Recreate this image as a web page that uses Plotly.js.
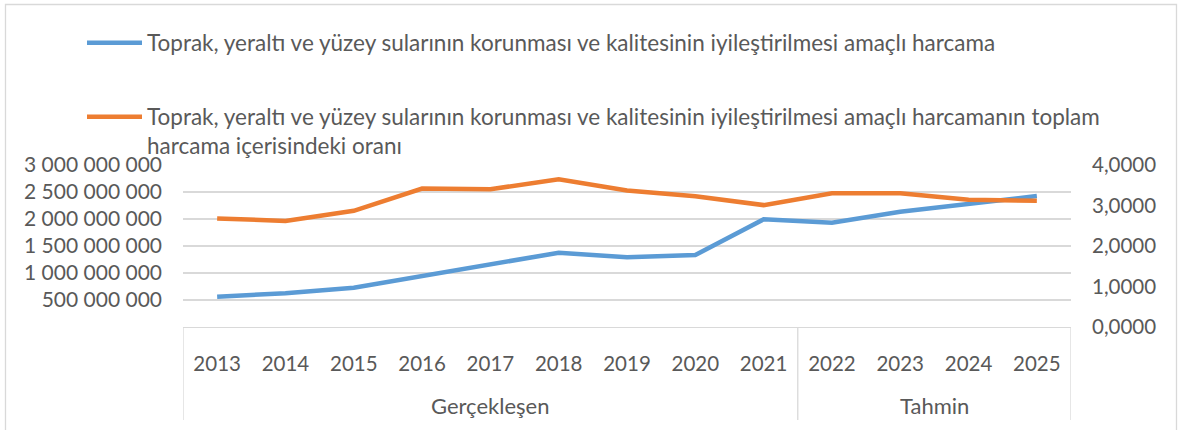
<!DOCTYPE html>
<html><head><meta charset="utf-8">
<script src="https://cdn.plot.ly/plotly-3.0.1.min.js"></script>
<style>html,body{margin:0;padding:0;background:#fff;}#chart{width:1178px;height:430px;}</style>
</head><body><div id="chart"></div>
<script>
const years = ['2013','2014','2015','2016','2017','2018','2019','2020','2021','2022','2023','2024','2025'];
const groups = ['Gerçekleşen','Gerçekleşen','Gerçekleşen','Gerçekleşen','Gerçekleşen','Gerçekleşen','Gerçekleşen','Gerçekleşen','Gerçekleşen','Tahmin','Tahmin','Tahmin','Tahmin'];
const harcama = [561e6, 624e6, 728e6, 944e6, 1161e6, 1376e6, 1290e6, 1333e6, 1994e6, 1931e6, 2135e6, 2278e6, 2426e6];
const oran = [2.68, 2.62, 2.87, 3.42, 3.40, 3.65, 3.37, 3.23, 3.01, 3.30, 3.30, 3.14, 3.12];
const seriesNames = [
  'Toprak, yeraltı ve yüzey sularının korunması ve kalitesinin iyileştirilmesi amaçlı harcama',
  'Toprak, yeraltı ve yüzey sularının korunması ve kalitesinin iyileştirilmesi amaçlı harcamanın toplam<br>harcama içerisindeki oranı'
];
const leftTicks = [500e6, 1000e6, 1500e6, 2000e6, 2500e6, 3000e6];
const rightTicks = [0, 1, 2, 3, 4];
const colors = ['#5B9BD5', '#ED7D31'];

const W = 1178, H = 430;
const M = {l: 183, r: 107, t: 165, b: 103};
const PW = W - M.l - M.r, PH = H - M.t - M.b;
const px = x => (x - M.l) / PW;
const py = y => (H - M.b - y) / PH;

const FONT = 'Lato, "Open Sans", sans-serif';
const TXT = '#595959';
const GRID = '#D9D9D9';
const FS = 20;

const traces = [
  {x: years, y: harcama, type: 'scatter', mode: 'lines', name: seriesNames[0],
   line: {color: colors[0], width: 4.5}, yaxis: 'y', showlegend: false},
  {x: years, y: oran, type: 'scatter', mode: 'lines', name: seriesNames[1],
   line: {color: colors[1], width: 4.5}, yaxis: 'y2', showlegend: false}
];

const shapes = [];
const annotations = [];

// outer border
shapes.push({type: 'rect', xref: 'paper', yref: 'paper', x0: px(5.5), x1: px(1176.5), y0: py(440), y1: py(4.5),
  line: {color: GRID, width: 1.3}, fillcolor: 'rgba(0,0,0,0)', layer: 'below'});

// group labels and dividers
const uniq = [];
groups.forEach((g, i) => {
  const last = uniq[uniq.length - 1];
  if (!last || last.name !== g) uniq.push({name: g, first: i, last: i});
  else last.last = i;
});
uniq.forEach((g, k) => {
  annotations.push({x: (g.first + g.last) / 2, xref: 'x', y: py(405), yref: 'paper', text: g.name,
    showarrow: false, xanchor: 'center', yanchor: 'middle', font: {family: FONT, size: 22, color: TXT}});
  shapes.push({type: 'line', xref: 'x', yref: 'paper', x0: g.first - 0.5, x1: g.first - 0.5, y0: 0, y1: py(420),
    line: {color: GRID, width: 1.3}});
  if (k === uniq.length - 1) {
    shapes.push({type: 'line', xref: 'x', yref: 'paper', x0: g.last + 0.5, x1: g.last + 0.5, y0: 0, y1: py(420),
      line: {color: GRID, width: 1.3}});
  }
});

// manual legend
const legY = [[42.7, 42.7], [116.7, 130.85]];
seriesNames.forEach((n, i) => {
  shapes.push({type: 'line', xref: 'paper', yref: 'paper', x0: px(87), x1: px(142), y0: py(legY[i][0]), y1: py(legY[i][0]),
    line: {color: colors[i], width: 4.5}});
  annotations.push({x: px(145), xref: 'paper', y: py(legY[i][1]), yref: 'paper', text: n, showarrow: false,
    xanchor: 'left', yanchor: 'middle', align: 'left', font: {family: FONT, size: 22.5, color: TXT}});
});

const layout = {
  width: W, height: H, margin: M,
  paper_bgcolor: '#fff', plot_bgcolor: '#fff',
  separators: ', ',
  font: {family: FONT, size: FS, color: TXT},
  showlegend: false,
  xaxis: {type: 'category', categoryorder: 'array', categoryarray: years, range: [-0.5, years.length - 0.5],
    showgrid: false, zeroline: false, showline: true, linecolor: GRID, linewidth: 1.3,
    ticks: '', ticklabelstandoff: 18, tickfont: {family: FONT, size: 20.5, color: TXT}, fixedrange: true},
  yaxis: {range: [0, 3e9], tickvals: leftTicks, tickformat: ',d', showgrid: true, gridcolor: GRID, gridwidth: 1.3,
    zeroline: false, showline: false, ticks: '', ticklabelstandoff: 20, tickfont: {family: FONT, size: 21, color: TXT}},
  yaxis2: {range: [0, 4], tickvals: rightTicks, tickformat: '.4f', overlaying: 'y', side: 'right', showgrid: false,
    zeroline: false, showline: false, ticks: '', ticklabelstandoff: 20, tickfont: {family: FONT, size: 20.5, color: TXT}},
  shapes: shapes,
  annotations: annotations
};

Plotly.newPlot('chart', traces, layout, {displayModeBar: false, staticPlot: true});
</script></body></html>
